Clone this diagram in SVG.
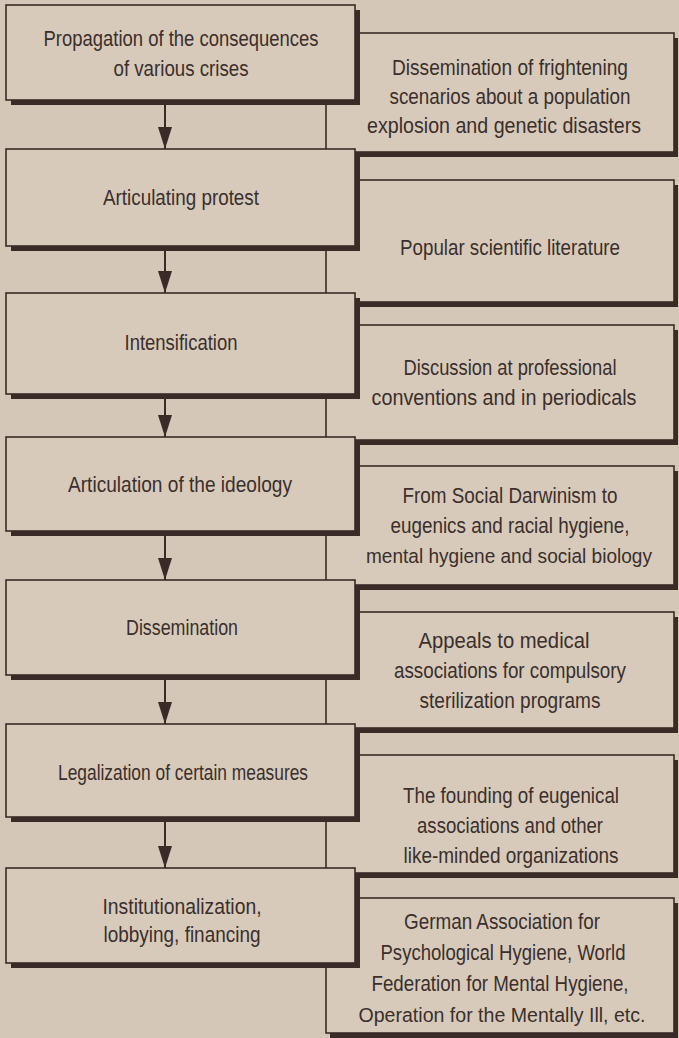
<svg xmlns="http://www.w3.org/2000/svg" width="679" height="1038" viewBox="0 0 679 1038">
<style>
.bg{fill:#d5c7b8}
.sh{fill:#3a2b27}
.box{fill:#d7cabb;stroke:#3a2b27;stroke-width:1.6}
text{font-family:"Liberation Sans Narrow","Liberation Sans",Arial,sans-serif;font-size:22px;fill:#3b2f2b;text-anchor:middle}
.long{font-size:20.5px}
.arrow{stroke:#3a2b27;stroke-width:2;fill:none}
</style>
<defs>
<marker id="ah" markerUnits="userSpaceOnUse" viewBox="0 0 22 14" markerWidth="22" markerHeight="14" refX="22" refY="7" orient="auto"><path d="M0,0 L22,7 L0,14 Z" fill="#3a2b27"/></marker>
</defs>
<rect class="bg" x="0" y="0" width="679" height="1038"/>

<g id="right1"><rect class="sh" x="330" y="38" width="348" height="119"/><rect class="box" x="326" y="33" width="348" height="119"/>
<text x="510" y="75" textLength="236" lengthAdjust="spacingAndGlyphs">Dissemination of frightening</text>
<text x="510" y="104" textLength="241" lengthAdjust="spacingAndGlyphs">scenarios about a population</text>
<text x="504" y="133" textLength="274" lengthAdjust="spacingAndGlyphs">explosion and genetic disasters</text></g>

<g id="right2"><rect class="sh" x="330" y="185" width="348" height="122"/><rect class="box" x="326" y="180" width="348" height="122"/>
<text x="510" y="255" textLength="220" lengthAdjust="spacingAndGlyphs">Popular scientific literature</text></g>

<g id="right3"><rect class="sh" x="330" y="330" width="348" height="115"/><rect class="box" x="326" y="325" width="348" height="115"/>
<text x="510" y="375" textLength="213" lengthAdjust="spacingAndGlyphs">Discussion at professional</text>
<text x="504" y="405" textLength="265" lengthAdjust="spacingAndGlyphs">conventions and in periodicals</text></g>

<g id="right4"><rect class="sh" x="330" y="471" width="348" height="119"/><rect class="box" x="326" y="466" width="348" height="119"/>
<text x="510" y="503" textLength="215" lengthAdjust="spacingAndGlyphs">From Social Darwinism to</text>
<text x="510" y="533" textLength="239" lengthAdjust="spacingAndGlyphs">eugenics and racial hygiene,</text>
<text class="long" x="509" y="563" textLength="286" lengthAdjust="spacingAndGlyphs">mental hygiene and social biology</text></g>

<g id="right5"><rect class="sh" x="330" y="617" width="348" height="116"/><rect class="box" x="326" y="612" width="348" height="116"/>
<text x="504" y="648" textLength="171" lengthAdjust="spacingAndGlyphs">Appeals to medical</text>
<text x="510" y="678" textLength="232" lengthAdjust="spacingAndGlyphs">associations for compulsory</text>
<text x="510" y="708" textLength="181" lengthAdjust="spacingAndGlyphs">sterilization programs</text></g>

<g id="right6"><rect class="sh" x="330" y="760" width="348" height="118"/><rect class="box" x="326" y="755" width="348" height="118"/>
<text x="511" y="803" textLength="216" lengthAdjust="spacingAndGlyphs">The founding of eugenical</text>
<text x="510" y="833" textLength="186" lengthAdjust="spacingAndGlyphs">associations and other</text>
<text x="511" y="863" textLength="215" lengthAdjust="spacingAndGlyphs">like-minded organizations</text></g>

<g id="right7"><rect class="sh" x="330" y="903" width="348" height="135"/><rect class="box" x="326" y="898" width="348" height="135"/>
<text x="502" y="929" textLength="196" lengthAdjust="spacingAndGlyphs">German Association for</text>
<text x="503" y="960" textLength="245" lengthAdjust="spacingAndGlyphs">Psychological Hygiene, World</text>
<text x="500" y="991" textLength="257" lengthAdjust="spacingAndGlyphs">Federation for Mental Hygiene,</text>
<text class="long" x="502" y="1022" textLength="287" lengthAdjust="spacingAndGlyphs">Operation for the Mentally Ill, etc.</text></g>

<g id="left1"><rect class="sh" x="11" y="10" width="349" height="95"/><rect class="box" x="6" y="5" width="349" height="95"/>
<text x="181" y="46" textLength="275" lengthAdjust="spacingAndGlyphs">Propagation of the consequences</text>
<text x="181" y="76" textLength="135" lengthAdjust="spacingAndGlyphs">of various crises</text></g>

<g id="left2"><rect class="sh" x="11" y="154" width="349" height="97"/><rect class="box" x="6" y="149" width="349" height="97"/>
<text x="181" y="205" textLength="156" lengthAdjust="spacingAndGlyphs">Articulating protest</text></g>

<g id="left3"><rect class="sh" x="11" y="298" width="349" height="101"/><rect class="box" x="6" y="293" width="349" height="101"/>
<text x="181" y="350" textLength="113" lengthAdjust="spacingAndGlyphs">Intensification</text></g>

<g id="left4"><rect class="sh" x="11" y="442" width="349" height="94"/><rect class="box" x="6" y="437" width="349" height="94"/>
<text x="180" y="492" textLength="224" lengthAdjust="spacingAndGlyphs">Articulation of the ideology</text></g>

<g id="left5"><rect class="sh" x="11" y="585" width="349" height="95"/><rect class="box" x="6" y="580" width="349" height="95"/>
<text x="182" y="635" textLength="112" lengthAdjust="spacingAndGlyphs">Dissemination</text></g>

<g id="left6"><rect class="sh" x="11" y="729" width="349" height="93"/><rect class="box" x="6" y="724" width="349" height="93"/>
<text x="183" y="780" textLength="250" lengthAdjust="spacingAndGlyphs">Legalization of certain measures</text></g>

<g id="left7"><rect class="sh" x="11" y="873" width="349" height="95"/><rect class="box" x="6" y="868" width="349" height="95"/>
<text x="182" y="914" textLength="159" lengthAdjust="spacingAndGlyphs">Institutionalization,</text>
<text x="182" y="942" textLength="157" lengthAdjust="spacingAndGlyphs">lobbying, financing</text></g>

<g id="connectors">
<line class="arrow" x1="165" y1="105" x2="165" y2="149" marker-end="url(#ah)"/>
<line class="arrow" x1="165" y1="251" x2="165" y2="293" marker-end="url(#ah)"/>
<line class="arrow" x1="165" y1="399" x2="165" y2="437" marker-end="url(#ah)"/>
<line class="arrow" x1="165" y1="536" x2="165" y2="580" marker-end="url(#ah)"/>
<line class="arrow" x1="165" y1="680" x2="165" y2="724" marker-end="url(#ah)"/>
<line class="arrow" x1="165" y1="822" x2="165" y2="868" marker-end="url(#ah)"/>
</g>
</svg>
